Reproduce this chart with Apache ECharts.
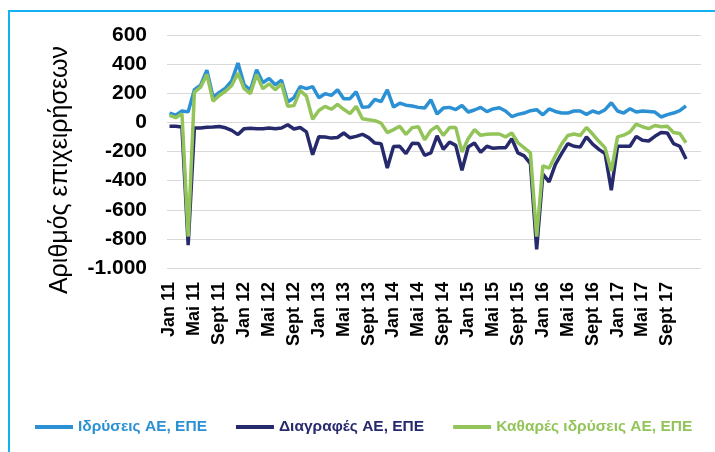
<!DOCTYPE html>
<html>
<head>
<meta charset="utf-8">
<script src="https://cdn.jsdelivr.net/npm/echarts@6/dist/echarts.min.js"></script>
<style>
  html, body { margin: 0; padding: 0; background: #fff; }
  #chart { width: 715px; height: 452px; }
</style>
</head>
<body>
<div id="chart"></div>
<script>
// monthly, Jan 2011 - Dec 2017
const months = []
for (let y = 2011; y <= 2017; y++) {
  for (let m = 1; m <= 12; m++) months.push(y + '-' + (m < 10 ? '0' + m : m))
}

// tick labels printed every 4th month
const tickLabels = ['Jan 11', 'Mai 11', 'Sept 11', 'Jan 12', 'Mai 12', 'Sept 12', 'Jan 13', 'Mai 13', 'Sept 13',
  'Jan 14', 'Mai 14', 'Sept 14', 'Jan 15', 'Mai 15', 'Sept 15', 'Jan 16', 'Mai 16', 'Sept 16', 'Jan 17', 'Mai 17', 'Sept 17']

const seriesNames = ['Ιδρύσεις ΑΕ, ΕΠΕ', 'Διαγραφές ΑΕ, ΕΠΕ', 'Καθαρές ιδρύσεις ΑΕ, ΕΠΕ']
const colors = ['#2B90D4', '#262A6C', '#93C459']

// Ιδρύσεις
const foundings = [
  64, 50, 78, 72, 225, 255, 358, 173, 205, 235, 285, 408,
  258, 222, 362, 272, 302, 258, 290, 140, 170, 245, 232, 245,
  169, 197, 185, 224, 162, 163, 210, 103, 107, 158, 142, 224,
  105, 132, 118, 112, 103, 98, 155, 58, 98, 103, 88, 116,
  71, 85, 103, 74, 92, 100, 78, 40, 55, 64, 80, 87,
  52, 92, 75, 64, 64, 78, 78, 55, 78, 64, 87, 135,
  78, 64, 94, 71, 78, 75, 71, 37, 53, 64, 80, 114
]

// Διαγραφές
const deletions = [
  -27, -27, -32, -843, -39, -39, -34, -32, -28, -37, -55, -84,
  -43, -41, -43, -43, -39, -43, -39, -16, -45, -35, -65, -222,
  -98, -100, -108, -104, -73, -106, -96, -82, -105, -142, -146, -314,
  -166, -164, -215, -144, -145, -226, -210, -92, -185, -135, -158, -329,
  -169, -142, -205, -164, -178, -175, -175, -112, -210, -230, -283, -872,
  -355, -409, -290, -215, -146, -164, -170, -100, -150, -185, -215, -466,
  -164, -164, -164, -96, -123, -128, -96, -70, -73, -146, -164, -252
]

// Καθαρές ιδρύσεις
const netFoundings = [
  48, 32, 60, -785, 208, 242, 329, 146, 185, 214, 253, 338,
  231, 197, 329, 231, 265, 224, 265, 110, 115, 219, 180, 22,
  82, 110, 90, 123, 90, 60, 110, 25, 18, 12, -5, -70,
  -50, -27, -82, -36, -30, -119, -55, -27, -89, -36, -36, -203,
  -112, -50, -89, -82, -80, -80, -100, -73, -140, -175, -210, -785,
  -298, -315, -230, -150, -90, -80, -90, -35, -80, -130, -175, -335,
  -100, -88, -65, -12, -30, -43, -21, -30, -27, -70, -76, -140
]

const font = 'Liberation Sans, Arial, sans-serif'

const fmt = v => {
  const s = Math.abs(v) >= 1000 ? String(Math.abs(v)).replace(/\B(?=(\d{3})+(?!\d))/g, '.') : String(Math.abs(v))
  return (v < 0 ? '-' : '') + s
}

const chart = echarts.init(document.getElementById('chart'))

const yBase = { min: -1000, max: 600, interval: 200 }

const option = {
  animation: false,
  grid: [
    { left: 167, right: 14, top: 35, bottom: 184 },       // gridlines + y labels
    { left: 169.5, width: 516.5, top: 35, bottom: 184 }   // lines + x labels
  ],
  xAxis: [
    { gridIndex: 0, type: 'category', data: months, show: false },
    {
      gridIndex: 1, type: 'category', data: months, boundaryGap: false,
      axisLine: { show: false }, axisTick: { show: false }, splitLine: { show: false },
      axisLabel: {
        rotate: 90, interval: 3, margin: 14, fontSize: 18, fontWeight: 'bold', color: '#000', fontFamily: font,
        formatter: (v, idx) => tickLabels[idx / 4] || ''
      }
    }
  ],
  yAxis: [
    {
      gridIndex: 0, type: 'value', ...yBase,
      axisLine: { show: false }, axisTick: { show: false },
      splitLine: { lineStyle: { color: '#D9D9D9', width: 1 } },
      axisLabel: { formatter: fmt, margin: 20, fontSize: 21, fontWeight: 'bold', color: '#000', fontFamily: font }
    },
    { gridIndex: 1, type: 'value', ...yBase, show: false, splitLine: { show: false } }
  ],
  legend: {
    left: 30, top: 414,
    itemWidth: 38, itemHeight: 4, itemGap: 29,
    icon: 'rect',
    textStyle: { fontSize: 15.5, fontWeight: 'bold', fontFamily: font },
    data: seriesNames.map((n, i) => ({ name: n, textStyle: { color: colors[i] } }))
  },
  graphic: [
    {
      type: 'rect', silent: true,
      shape: { x: 9, y: 11, width: 800, height: 600 },
      style: { fill: 'none', stroke: '#12B1EF', lineWidth: 2 }
    },
    {
      type: 'text', x: 60, y: 170, rotation: Math.PI / 2,
      style: { text: 'Αριθμός επιχειρήσεων', fontSize: 25, fontFamily: font, fill: '#000', align: 'center', verticalAlign: 'middle' }
    }
  ],
  series: [foundings, deletions, netFoundings].map((d, i) => ({
    name: seriesNames[i],
    type: 'line',
    xAxisIndex: 1, yAxisIndex: 1,
    data: d,
    symbol: 'none',
    lineStyle: { color: colors[i], width: 3.5 },
    itemStyle: { color: colors[i] }
  }))
}

chart.setOption(option)
</script>
</body>
</html>
